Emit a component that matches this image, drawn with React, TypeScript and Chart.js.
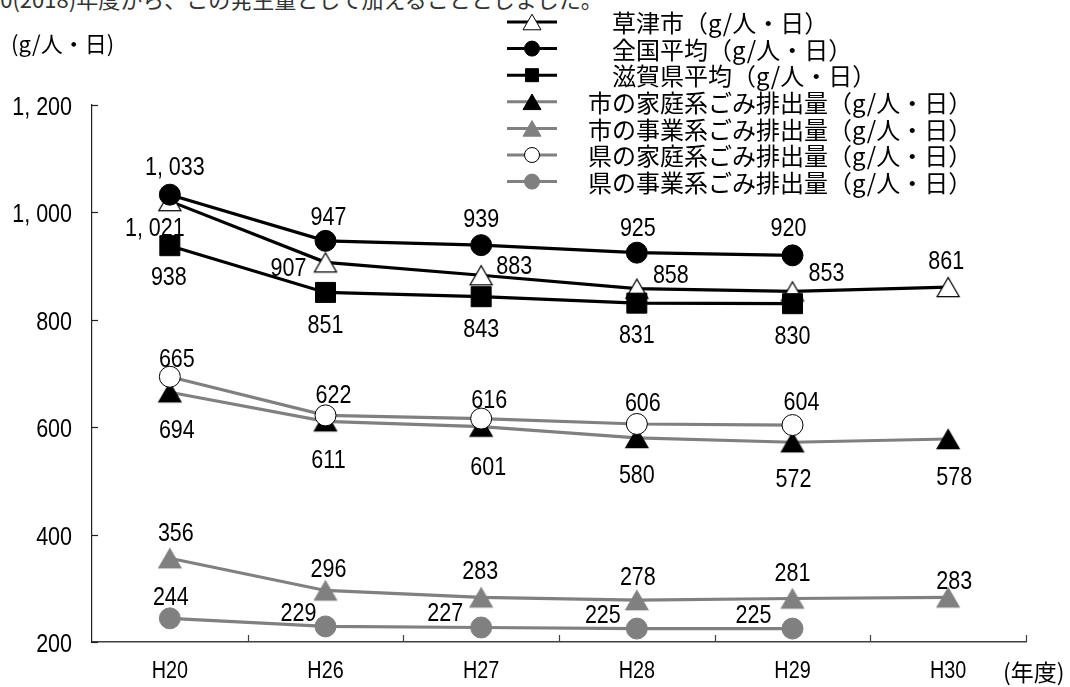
import React, { useEffect, useRef } from 'react';
import { Chart, registerables } from 'chart.js';

Chart.register(...registerables);

// Fiscal years (Heisei era)
const years = ['H20', 'H26', 'H27', 'H28', 'H29', 'H30'];

// Waste discharged per person per day (g/人・日)
const kusatsuTotal = [1021, 907, 883, 858, 853, 861];
const nationalAvg = [1033, 947, 939, 925, 920, null];
const shigaAvg = [938, 851, 843, 831, 830, null];
const cityHousehold = [665, 611, 601, 580, 572, 578];
const cityBusiness = [356, 296, 283, 278, 281, 283];
const prefHousehold = [694, 622, 616, 606, 604, null];
const prefBusiness = [244, 229, 227, 225, 225, null];

const yTicks = [200, 400, 600, 800, 1000, 1200];

const seriesNames = [
  '草津市（g/人・日）',
  '全国平均（g/人・日）',
  '滋賀県平均（g/人・日）',
  '市の家庭系ごみ排出量（g/人・日）',
  '市の事業系ごみ排出量（g/人・日）',
  '県の家庭系ごみ排出量（g/人・日）',
  '県の事業系ごみ排出量（g/人・日）',
];

// Where each value label sits relative to its point, in pixels [dx, dy]
const labelOffsets: number[][][] = [
  [[-15, 26], [-37, 5], [33, -10], [34, -15], [34, -19], [-2, -27]],
  [[5, -29], [3, -25], [0, -27], [1, -26], [-4, -28]],
  [[-1, 30], [0, 32], [0, 31], [0, 31], [0, 31]],
  [[7, -34], [3, 38], [7, 39], [0, 36], [1, 36], [6, 37]],
  [[6, -26], [3, -22], [-1, -27], [1, -24], [0, -26], [6, -17]],
  [[7, 52], [8, -21], [8, -20], [6, -22], [9, -24]],
  [[1, -22], [-27, -14], [-36, -15], [-34, -15], [-39, -15]],
];

const BLACK = '#000000';
const GRAY = '#808080';
const NUM_FAMILY = '"Liberation Sans", Arial, sans-serif';
const JP_FAMILY = '"Noto Sans CJK JP", "Noto Sans CJK SC", sans-serif';
const NARROW = 0.86;

const fmt = (v: number) =>
  v >= 1000 ? `${Math.floor(v / 1000)}, ${String(v % 1000).padStart(3, '0')}` : String(v);

type Style = {
  line: string;
  shape: 'circle' | 'rect' | 'triangle';
  fill: string;
  stroke: string;
  size: number;
  legendSize: number;
  indent: number;
};

const styles: Style[] = [
  { line: BLACK, shape: 'triangle', fill: '#ffffff', stroke: BLACK, size: 22, legendSize: 18, indent: 24 },
  { line: BLACK, shape: 'circle', fill: BLACK, stroke: BLACK, size: 21, legendSize: 15, indent: 24 },
  { line: BLACK, shape: 'rect', fill: BLACK, stroke: BLACK, size: 20, legendSize: 13, indent: 24 },
  { line: GRAY, shape: 'triangle', fill: BLACK, stroke: BLACK, size: 22, legendSize: 18, indent: 0 },
  { line: GRAY, shape: 'triangle', fill: GRAY, stroke: GRAY, size: 22, legendSize: 18, indent: 0 },
  { line: GRAY, shape: 'circle', fill: '#ffffff', stroke: BLACK, size: 21, legendSize: 15, indent: 0 },
  { line: GRAY, shape: 'circle', fill: GRAY, stroke: GRAY, size: 21, legendSize: 15, indent: 0 },
];

const seriesData = [
  kusatsuTotal,
  nationalAvg,
  shigaAvg,
  cityHousehold,
  cityBusiness,
  prefHousehold,
  prefBusiness,
];

// Condensed numeric text, vertically centred on the cap height
function drawNarrow(
  ctx: CanvasRenderingContext2D,
  text: string,
  x: number,
  yCenter: number,
  size: number,
  align: CanvasTextAlign
) {
  ctx.save();
  ctx.font = `${size}px ${NUM_FAMILY}`;
  ctx.textAlign = align;
  ctx.textBaseline = 'alphabetic';
  ctx.translate(x, yCenter + size * 0.358);
  ctx.scale(NARROW, 1);
  ctx.fillText(text, 0, 0);
  ctx.restore();
}

function drawMarker(
  ctx: CanvasRenderingContext2D,
  s: Style,
  x: number,
  y: number,
  size: number,
  lineWidth = 1
) {
  ctx.beginPath();
  if (s.shape === 'circle') {
    ctx.arc(x, y, size / 2, 0, Math.PI * 2);
  } else if (s.shape === 'rect') {
    ctx.rect(x - size / 2, y - size / 2, size, size);
  } else {
    const h = size * 0.866;
    ctx.moveTo(x, y - h / 2);
    ctx.lineTo(x + size / 2, y + h / 2);
    ctx.lineTo(x - size / 2, y + h / 2);
    ctx.closePath();
  }
  ctx.fillStyle = s.fill;
  ctx.fill();
  ctx.lineWidth = lineWidth;
  ctx.strokeStyle = s.stroke;
  ctx.stroke();
}

// Triangle marker image whose bounding box is centred on the point
function triangleImage(s: Style): HTMLCanvasElement {
  const c = document.createElement('canvas');
  const w = Math.ceil(s.size + 4);
  const h = Math.ceil(s.size * 0.866 + 4);
  c.width = w;
  c.height = h;
  const ctx = c.getContext('2d')!;
  drawMarker(ctx, s, w / 2, h / 2, s.size, 1.3);
  return c;
}

const valueLabels = {
  id: 'valueLabels',
  afterDatasetsDraw(chart: any) {
    const ctx: CanvasRenderingContext2D = chart.ctx;
    ctx.save();
    ctx.fillStyle = BLACK;
    chart.data.datasets.forEach((ds: any, i: number) => {
      const meta = chart.getDatasetMeta(i);
      ds.data.forEach((v: number | null, j: number) => {
        if (v == null) return;
        const pt = meta.data[j];
        const [dx, dy] = labelOffsets[i][j] || [0, -24];
        drawNarrow(ctx, fmt(v), pt.x + dx, pt.y + dy, 25, 'center');
      });
    });
    ctx.restore();
  },
};

const decorations = {
  id: 'decorations',
  afterDraw(chart: any) {
    const ctx: CanvasRenderingContext2D = chart.ctx;
    const { left, right, bottom } = chart.chartArea;
    const xScale = chart.scales.x;
    const yScale = chart.scales.y;
    ctx.save();

    // inward tick marks and tick labels
    ctx.strokeStyle = '#202020';
    ctx.lineWidth = 1.2;
    ctx.fillStyle = BLACK;
    yTicks.forEach((v) => {
      const yp = yScale.getPixelForValue(v);
      const py = Math.round(yp) + 0.5;
      ctx.beginPath();
      ctx.moveTo(left, py);
      ctx.lineTo(left + 6, py);
      ctx.stroke();
      drawNarrow(ctx, fmt(v), 72, yp + 1, 25, 'right');
    });
    ctx.strokeStyle = '#404040';
    const n = years.length;
    for (let i = 1; i <= n; i++) {
      const px = Math.round(left + ((right - left) * i) / n) + 0.5;
      ctx.beginPath();
      ctx.moveTo(px, bottom);
      ctx.lineTo(px, bottom - 7);
      ctx.stroke();
    }
    years.forEach((yr, i) => {
      drawNarrow(ctx, yr, xScale.getPixelForValue(i), 670, 23, 'center');
    });

    // axis units
    ctx.fillStyle = BLACK;
    ctx.font = `22px ${JP_FAMILY}`;
    ctx.textBaseline = 'middle';
    ctx.textAlign = 'left';
    ctx.fillText('(g/人・日)', 11, 44);
    ctx.font = `23px ${JP_FAMILY}`;
    ctx.fillText('(年度)', 1003, 672);

    // legend
    const legendTop = 22;
    const legendStep = 26.6;
    ctx.font = `24px ${JP_FAMILY}`;
    styles.forEach((s, i) => {
      const y = legendTop + i * legendStep;
      ctx.strokeStyle = s.line;
      ctx.lineWidth = 3;
      ctx.beginPath();
      ctx.moveTo(507, y);
      ctx.lineTo(557, y);
      ctx.stroke();
      drawMarker(ctx, s, 532, y, s.legendSize);
      ctx.fillStyle = BLACK;
      ctx.fillText(seriesNames[i], 588 + s.indent, y + 1);
    });

    ctx.restore();
  },
};

export default function App() {
  const canvasRef = useRef<HTMLCanvasElement>(null);

  useEffect(() => {
    const canvas = canvasRef.current;
    if (!canvas) return;
    const n = seriesData.length;
    const chart = new Chart(canvas, {
      type: 'line',
      data: {
        labels: years,
        datasets: seriesData.map((d, i) => {
          const s = styles[i];
          const radius = s.shape === 'rect' ? s.size / 2 / Math.SQRT1_2 : s.size / 2;
          return {
            label: seriesNames[i],
            data: d,
            order: n - i,
            borderColor: s.line,
            borderWidth: 3.2,
            tension: 0,
            fill: false,
            pointStyle: s.shape === 'triangle' ? triangleImage(s) : s.shape,
            pointRadius: radius,
            pointHoverRadius: radius,
            pointBackgroundColor: s.fill,
            pointBorderColor: s.stroke,
            pointBorderWidth: 1,
            clip: false,
          };
        }),
      },
      options: {
        responsive: false,
        animation: false,
        events: [],
        layout: { padding: { top: 105, right: 44, left: 0, bottom: 0 } },
        plugins: {
          legend: { display: false },
          tooltip: { enabled: false },
          title: { display: false },
        },
        scales: {
          x: {
            type: 'category',
            offset: true,
            grid: { display: false, drawTicks: false },
            border: { display: true, color: '#404040', width: 1.5 },
            ticks: { display: false },
            afterFit: (scale: any) => {
              scale.height = 45;
            },
          },
          y: {
            min: 200,
            max: 1200,
            grid: { display: false, drawTicks: false },
            border: { display: true, color: '#202020', width: 1.2 },
            ticks: { display: false, stepSize: 200 },
            afterFit: (scale: any) => {
              scale.width = 92;
            },
          },
        },
      },
      plugins: [valueLabels, decorations],
    } as any);
    return () => chart.destroy();
  }, []);

  return (
    <div
      style={{
        position: 'fixed',
        left: 0,
        top: 0,
        width: 1070,
        height: 687,
        background: '#ffffff',
        overflow: 'hidden',
      }}
    >
      <div
        style={{
          position: 'absolute',
          left: -12,
          top: -13,
          fontFamily: JP_FAMILY,
          fontSize: 22,
          lineHeight: '22px',
          color: '#333333',
          whiteSpace: 'nowrap',
        }}
      >
        30(2018)年度から、この発生量として加えることとしました。
      </div>
      <canvas
        ref={canvasRef}
        width={1070}
        height={687}
        style={{ position: 'absolute', left: 0, top: 0 }}
      />
    </div>
  );
}
